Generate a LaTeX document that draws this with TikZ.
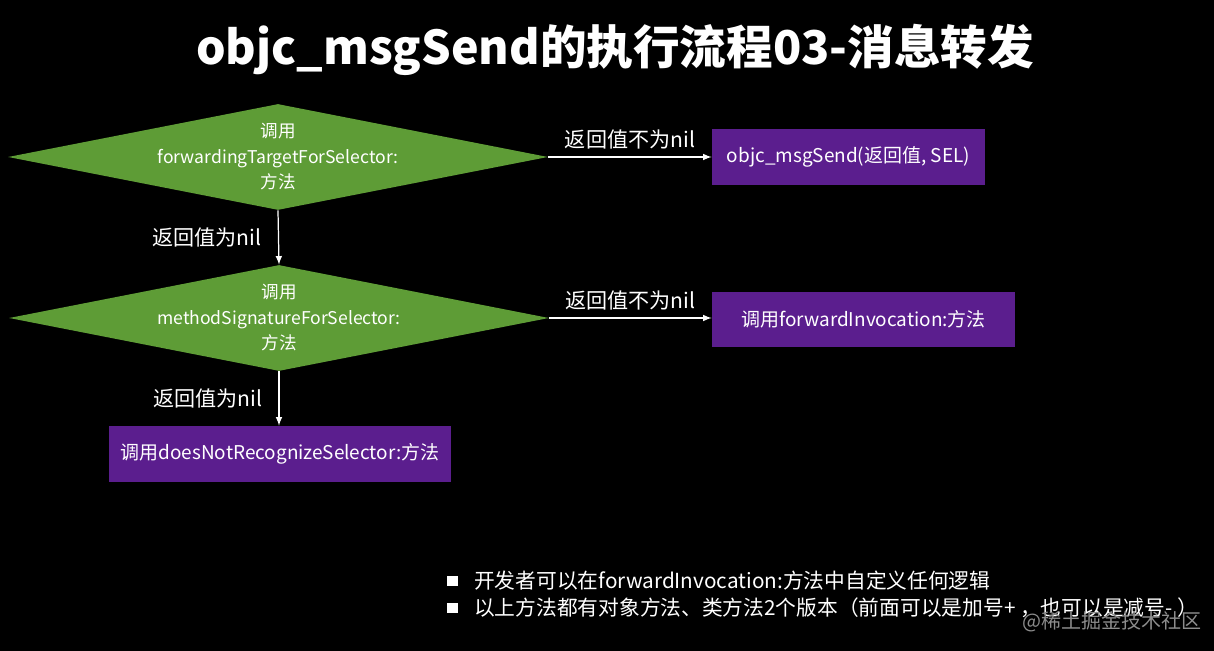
\documentclass[tikz,border=0pt]{standalone}
\usepackage{fontspec}
\setmainfont{Noto Sans CJK SC}
\usetikzlibrary{shapes.geometric}
\definecolor{flowbg}{HTML}{000000}
\definecolor{flowgreen}{HTML}{5E9C36}
\definecolor{flowpurple}{HTML}{5B1E8E}
\definecolor{flowwhite}{HTML}{FFFFFF}
\definecolor{flowmark}{HTML}{8C8C8C}

\begin{document}
\begin{tikzpicture}[
        x=0.02cm, y=-0.02cm,
        every node/.style={text=flowwhite, font=\fontsize{10.8}{14.5}\selectfont},
        dec/.style={
          diamond, fill=flowgreen, inner sep=0pt,
          minimum width=10.8cm, minimum height=2.12cm,
        },
        dectext/.style={align=center, font=\fontsize{10}{14.5}\selectfont},
        act/.style={
          fill=flowpurple, inner sep=0pt,
          minimum height=1.12cm, align=center,
        },
        go/.style={-latex, draw=flowwhite, line width=0.7pt},
        lbl/.style={font=\fontsize{12}{14}\selectfont},
        note/.style={anchor=west, font=\fontsize{11.8}{14}\selectfont},
        dot/.style={fill=flowwhite, inner sep=0pt, minimum size=0.22cm},
      ]
      \fill[flowbg] (0,0) rectangle (1214,651);
      \useasboundingbox (0,0) rectangle (1214,651);

      \node[font=\fontsize{26.5}{30}\selectfont\bfseries] (title) at (615,50)
        {objc\_msgSend的执行流程03-消息转发};

      % decisions
      \node[dec] (ask1) at (278,157) {};
      \node[dectext] (ask1t) at (ask1) {调用\\forwardingTargetForSelector:\\方法};
      \node[dec] (ask2) at (279,318) {};
      \node[dectext] (ask2t) at (ask2) {调用\\methodSignatureForSelector:\\方法};

      % actions
      \node[act, minimum width=5.46cm] (send) at (848.5,157) {objc\_msgSend(返回值, SEL)};
      \node[act, minimum width=6.06cm] (invoke) at (863.5,319.5) {调用forwardInvocation:方法};
      \node[act, minimum width=6.84cm] (fail) at (280,454) {调用doesNotRecognizeSelector:方法};

      \draw[go] (ask1.east) -- (send.west) node[midway, above=1pt, lbl] {返回值不为nil};
      \draw[go] (ask2.east) -- (ask2.east -| invoke.west) node[midway, above=1pt, lbl] {返回值不为nil};
      \draw[go] (ask1.south) -- (ask2.north) node[midway, left=6pt, lbl] {返回值为nil};
      \draw[go] (ask2.south) -- (ask2.south |- fail.north) node[midway, left=6pt, lbl] {返回值为nil};

      % notes
      \node[dot] (b1) at (452,581) {};
      \node[note] (n1) at (468,581) {开发者可以在forwardInvocation:方法中自定义任何逻辑};
      \node[dot] (b2) at (452,608) {};
      \node[note] (n2) at (468,608) {以上方法都有对象方法、类方法2个版本（前面可以是加号+ ，也可以是减号- ）};
      \node[text=flowmark, font=\fontsize{11.4}{14}\selectfont] (mark) at (1112,622) {@稀土掘金技术社区};
    \end{tikzpicture}
\end{document}
